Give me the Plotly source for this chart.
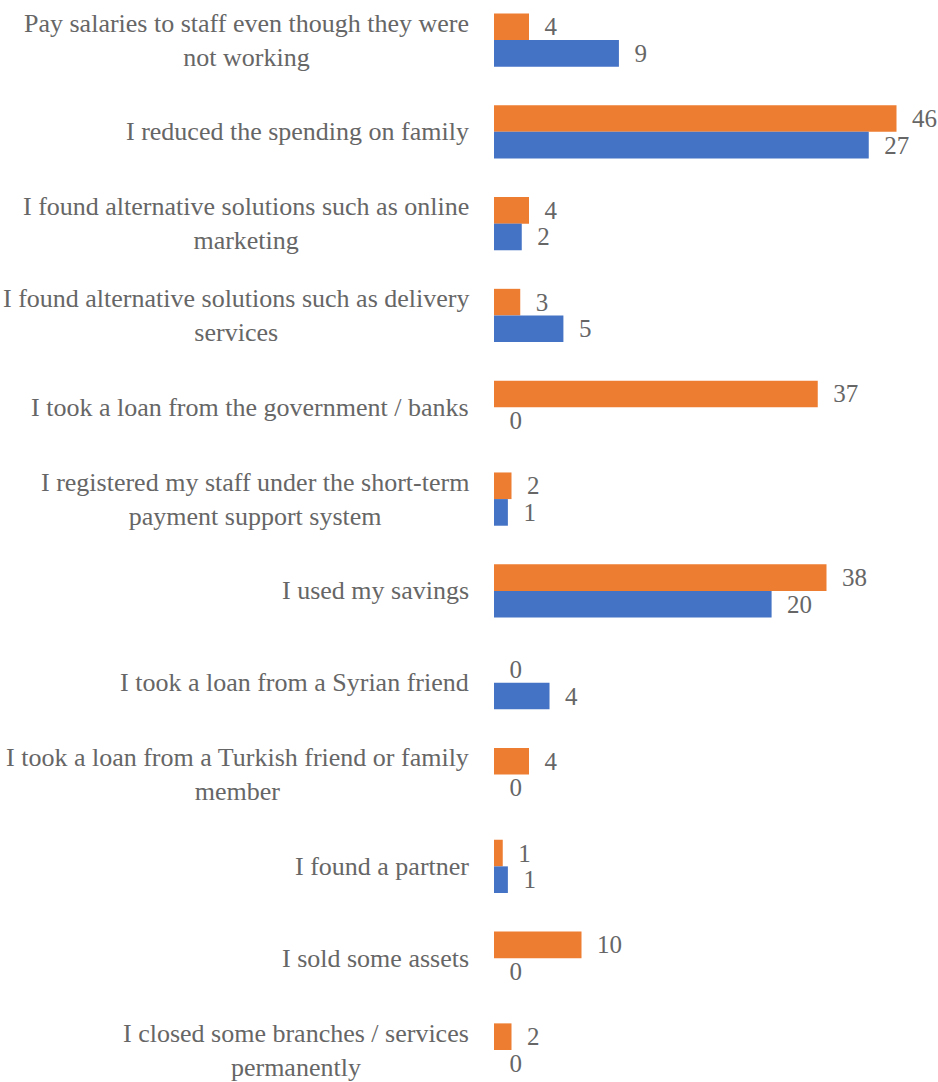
import plotly.graph_objects as go

# Category labels (wrapped lines separated by <br>)
category_labels = [
    "Pay salaries to staff even though they were<br>not working",
    "I reduced the spending on family",
    "I found alternative solutions such as online<br>marketing",
    "I found alternative solutions such as delivery<br>services",
    "I took a loan from the government / banks",
    "I registered my staff under the short-term<br>payment support system",
    "I used my savings",
    "I took a loan from a Syrian friend",
    "I took a loan from a Turkish friend or family<br>member",
    "I found a partner",
    "I sold some assets",
    "I closed some branches / services<br>permanently",
]
orange_values = [4, 46, 4, 3, 37, 2, 38, 0, 4, 1, 10, 2]
blue_values = [9, 27, 2, 5, 0, 1, 20, 4, 0, 1, 0, 0]

ORANGE = "#ED7D31"
BLUE = "#4472C4"
TEXT_COLOR = "#666666"
FONT = "Liberation Serif"
FS = 26

names = [c.replace("<br>", " ") for c in category_labels]

fig = go.Figure()
fig.add_trace(go.Bar(
    y=names, x=orange_values, orientation="h", xaxis="x", yaxis="y",
    marker=dict(color=ORANGE, line=dict(width=0)),
    offset=-0.29, width=0.29,
    texttemplate="\u00a0\u00a0%{x}", textposition="outside",
    cliponaxis=False, constraintext="none",
    textfont=dict(family=FONT, size=25, color=TEXT_COLOR),
    showlegend=False, hoverinfo="skip",
))
fig.add_trace(go.Bar(
    y=names, x=blue_values, orientation="h", xaxis="x2", yaxis="y",
    marker=dict(color=BLUE, line=dict(width=0)),
    offset=0.0, width=0.29,
    texttemplate="\u00a0\u00a0%{x}", textposition="outside",
    cliponaxis=False, constraintext="none",
    textfont=dict(family=FONT, size=25, color=TEXT_COLOR),
    showlegend=False, hoverinfo="skip",
))

annotations = []
for name, lab in zip(names, category_labels):
    annotations.append(dict(
        text=lab, x=0, xref="paper", xanchor="right", xshift=-23,
        y=name, yref="y", yanchor="middle", showarrow=False, align="center",
        font=dict(family=FONT, size=FS, color=TEXT_COLOR),
    ))

fig.update_layout(
    width=938, height=1082,
    margin=dict(l=494, r=0, t=0, b=0),
    paper_bgcolor="white", plot_bgcolor="white",
    xaxis=dict(range=[0, 444 / 8.75], visible=False, fixedrange=True),
    xaxis2=dict(range=[0, 444 / 13.88], visible=False, overlaying="x", fixedrange=True),
    yaxis=dict(type="category", range=[11.3485, -0.4357], autorange=False,
               showticklabels=False, showgrid=False, zeroline=False, showline=False,
               fixedrange=True),
    annotations=annotations,
    barmode="overlay",
)

fig.write_html(
    "out.html",
    config={"displayModeBar": False},
    post_script="document.body.style.margin='0';document.body.style.overflow='hidden';",
)
